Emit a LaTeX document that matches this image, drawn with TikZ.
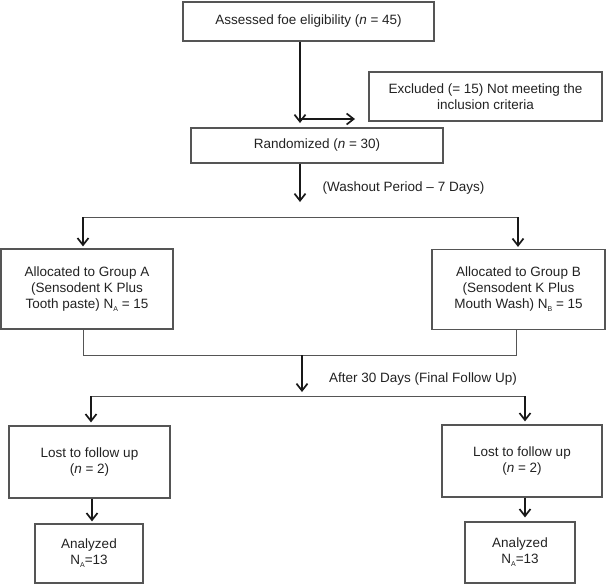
\documentclass[tikz,border=0pt]{standalone}
\usepackage{fontspec}
\setmainfont{Liberation Sans}
\usetikzlibrary{arrows.meta,calc}
\definecolor{boxgray}{HTML}{555555}
\definecolor{linegray}{HTML}{555555}
\definecolor{txt}{HTML}{222222}
\newcommand{\lowsub}[1]{\raisebox{-3pt}{\fontsize{7}{7}\selectfont #1}}
\begin{document}
\begin{tikzpicture}[x=1pt,y=-1pt,
  box/.style={draw=boxgray,line width=1.2pt,align=center,inner sep=2pt,
    font=\fontsize{13.5}{16}\selectfont,text=txt},
  lbl/.style={font=\fontsize{13.5}{16}\selectfont,text=txt,inner sep=0pt},
  arr/.style={draw=black!90,line width=1.7pt,
    -{Straight Barb[length=7pt,width=11pt]}},
  thin/.style={draw=linegray,line width=1pt}]
\useasboundingbox (0,0) rectangle (606,584);
% boxes
\node[box,minimum width=251pt,minimum height=39pt] (top) at (308.5,21.5)
  {Assessed foe eligibility (\textit{n} = 45)};
\node[box,minimum width=233pt,minimum height=49pt] (excl) at (485.5,96.5)
  {Excluded (= 15) Not meeting the\\inclusion criteria};
\node[box,minimum width=252pt,minimum height=35pt] (rand) at (317,145.5)
  {Randomized (\textit{n} = 30)};
\node[box,minimum width=172pt,minimum height=80pt] (ga) at (87,289)
  {Allocated to Group A\\(Sensodent K Plus\\Tooth paste) N\lowsub{A} = 15};
\node[box,minimum width=173pt,minimum height=80pt] (gb) at (518.5,289.5)
  {Allocated to Group B\\(Sensodent K Plus\\Mouth Wash) N\lowsub{B} = 15};
\node[box,minimum width=161pt,minimum height=72pt] (la) at (89.5,462)
  {Lost to follow up\\(\textit{n} = 2)};
\node[box,minimum width=160pt,minimum height=72pt] (lb) at (522,461)
  {Lost to follow up\\(\textit{n} = 2)};
\node[box,minimum width=108pt,minimum height=59pt] (aa) at (89,553.5)
  {Analyzed\\N\lowsub{A}=13};
\node[box,minimum width=110pt,minimum height=61pt] (ab) at (520,552.5)
  {Analyzed\\N\lowsub{A}=13};
% labels
\node[lbl] (wash) at (403.5,188) {(Washout Period -- 7 Days)};
\node[lbl] (after) at (423,379) {After 30 Days (Final Follow Up)};
% junction coordinates
\coordinate (j1) at (300,123);
\coordinate (j2) at (300,119);
\coordinate (j3) at (355,119);
\coordinate (j4) at (300,202);
\coordinate (sl) at (83,217);
\coordinate (sr) at (518,217);
\coordinate (ml) at (83,355);
\coordinate (mr) at (516,355);
\coordinate (m0) at (302,355);
\coordinate (m1) at (302,392);
\coordinate (tl) at (91,396);
\coordinate (tr) at (525,396);
% connectors
\draw[arr] (top.south -| j1) -- (j1);
\draw[arr] (j2) -- (j3);
\draw[arr] (rand.south -| j4) -- (j4);
\draw[thin] (sl) -- (sr);
\draw[arr,shorten >=2pt] (sl) -- (sl |- ga.north);
\draw[arr,shorten >=2pt] (sr) -- (sr |- gb.north);
\draw[thin] (ml |- ga.south) -- (ml) -- (mr) -- (mr |- gb.south);
\draw[arr] (m0) -- (m1);
\draw[thin] (tl) -- (tr);
\draw[arr,shorten >=3pt] (tl) -- (tl |- la.north);
\draw[arr,shorten >=3pt] (tr) -- (tr |- lb.north);
\draw[arr,shorten >=2pt] ($(la.south)+(2.5,0)$) -- ($(aa.north)+(3,0)$);
\draw[arr,shorten >=4pt] ($(lb.south)+(3,0)$) -- ($(ab.north)+(5,0)$);
\end{tikzpicture}
\end{document}
